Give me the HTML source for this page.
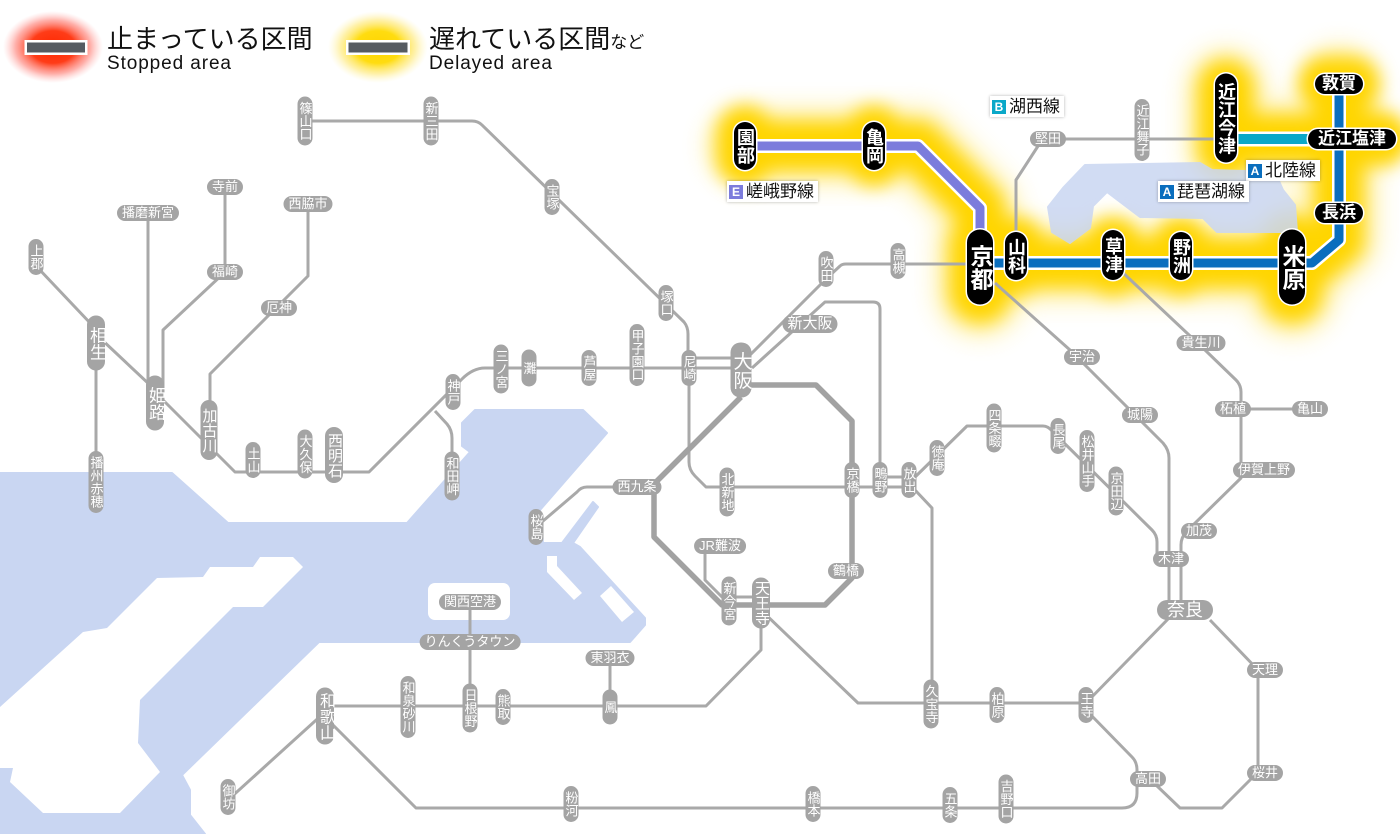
<!DOCTYPE html>
<html><head><meta charset="utf-8">
<style>
html,body{margin:0;padding:0}
body{width:1400px;height:834px;position:relative;overflow:hidden;background:#fff;font-family:"Liberation Sans","Noto Sans CJK JP",sans-serif}
svg{position:absolute;left:0;top:0}
.s{position:absolute;transform:translate(-50%,-50%);background:#a4a4a4;color:#fff;font-size:13px;text-align:center;white-space:nowrap;box-sizing:border-box;font-family:"Liberation Sans","Noto Sans CJK JP",sans-serif}
.h{height:16px;line-height:16px;padding:0 5px;border-radius:8px}
.v{writing-mode:vertical-rl;text-orientation:upright;width:15px;line-height:15px;padding:5px 0;border-radius:8px}
.L{writing-mode:vertical-rl;text-orientation:upright;width:18px;line-height:18px;font-size:16px;padding:0;border-radius:9px}
.b{background:#000;font-weight:bold;box-shadow:0 0 0 1.5px #fff}
.bv{writing-mode:vertical-rl;text-orientation:upright;width:22px;line-height:22px;font-size:18px;border-radius:11px;padding:0}
.bh{height:20px;line-height:20px;font-size:17px;border-radius:10px;padding:0 7px}
.lb{position:absolute;background:#fff;box-shadow:0 0 3px rgba(0,0,0,.3);font-size:17px;line-height:21px;height:21px;padding:0 4px 0 2px;color:#111;white-space:nowrap}
.lb i{display:inline-block;width:14px;height:14px;line-height:14px;font-size:12px;font-style:normal;color:#fff;text-align:center;vertical-align:1px;margin-right:3px;font-weight:bold;font-family:"Liberation Sans",sans-serif}
.lg{position:absolute;white-space:nowrap;color:#111}
</style></head><body>
<svg width="1400" height="834" viewBox="0 0 1400 834">
<defs>
<radialGradient id="rg" cx="50%" cy="50%" r="50%">
<stop offset="0" stop-color="#ff2800"/><stop offset=".45" stop-color="#ff3c18"/><stop offset=".75" stop-color="#ff7a70" stop-opacity=".6"/><stop offset="1" stop-color="#ffb0b0" stop-opacity="0"/>
</radialGradient>
<radialGradient id="yg" cx="50%" cy="50%" r="50%">
<stop offset="0" stop-color="#ffd400"/><stop offset=".45" stop-color="#ffdc10"/><stop offset=".75" stop-color="#ffe870" stop-opacity=".6"/><stop offset="1" stop-color="#fff4b0" stop-opacity="0"/>
</radialGradient>
<filter id="bl" filterUnits="userSpaceOnUse" x="600" y="0" width="800" height="420"><feGaussianBlur stdDeviation="9"/></filter>
<filter id="bl2" filterUnits="userSpaceOnUse" x="600" y="0" width="800" height="420"><feGaussianBlur stdDeviation="12"/></filter>
</defs>

<!-- legend -->
<ellipse cx="53" cy="47" rx="50" ry="36" fill="url(#rg)"/>
<rect x="24.5" y="40" width="63" height="15" fill="#fff"/>
<rect x="27" y="42.5" width="58" height="10" fill="#565b61"/>
<ellipse cx="378" cy="47" rx="50" ry="36" fill="url(#yg)"/>
<rect x="346" y="40" width="64" height="15" fill="#fff"/>
<rect x="348.5" y="42.5" width="59" height="10" fill="#565b61"/>

<!-- yellow glow outer -->
<g filter="url(#bl2)" fill="none" stroke="#ffe45a" stroke-linecap="round" stroke-linejoin="round" opacity=".45">
<path d="M745,146 L918,146 L980,208 L980,267" stroke-width="78"/>
<path d="M980,263 L1312,263 L1339,240 L1339,84" stroke-width="78"/>
<path d="M1226,139 L1352,139" stroke-width="78"/>
<path d="M980,245 L980,292" stroke-width="90"/>
<path d="M1292,245 L1292,292" stroke-width="90"/>
<path d="M1226,88 L1226,150" stroke-width="80"/>
</g>
<!-- yellow glow core -->
<g filter="url(#bl)" fill="none" stroke="#ffd500" stroke-linecap="round" stroke-linejoin="round">
<path d="M745,146 L918,146 L980,208 L980,267" stroke-width="50"/>
<path d="M980,263 L1312,263 L1339,240 L1339,84" stroke-width="50"/>
<path d="M1226,139 L1352,139" stroke-width="50"/>
<path d="M980,245 L980,292" stroke-width="62"/>
<path d="M1292,245 L1292,292" stroke-width="62"/>
<path d="M1226,88 L1226,150" stroke-width="56"/>
<path d="M1326,84 L1352,84" stroke-width="54"/>
<path d="M1322,139 L1382,139" stroke-width="54"/>
<path d="M745,134 L745,158" stroke-width="56"/>
<path d="M874,134 L874,158" stroke-width="56"/>
<path d="M1016,245 L1016,268" stroke-width="56"/>
<path d="M1113,245 L1113,268" stroke-width="56"/>
<path d="M1181,245 L1181,268" stroke-width="56"/>
</g>

<!-- water -->
<g fill="#c9d6f2" stroke="#c9d6f2" stroke-width="2" stroke-linejoin="round">
<polygon points="0,473 172,473 228,523 407,523 470,452 462,446 462,423 475,410 583,410 607,433 540,510 543,543 562,543 593,502 598,507 573,543 580,547 645,618 645,625 630,642 319,642 182,775 190,790 190,815 205,834 0,834"/>
</g>
<polygon fill="#c9d6f2" opacity=".85" stroke="#c9d6f2" stroke-width="2" stroke-linejoin="round" points="1085,165 1200,163 1212,170 1275,172 1283,190 1295,205 1297,232 1217,232 1203,218 1140,217 1107,192 1093,206 1090,228 1070,243 1052,232 1048,207 1063,188"/>
<g fill="#fff">
<polygon points="0,707 83,632 107,628 157,578 203,577 210,567 253,567 260,557 293,557 303,567 263,607 233,607 140,700 138,743 160,772 120,813 43,813 10,782 13,768 0,768"/>
<rect x="428" y="583" width="82" height="37" rx="7"/>
<polygon points="547,556 557,556 557,566 582,593 574,600 547,572"/>
<polygon points="600,596 611,586 634,612 622,622"/>
</g>

<!-- gray lines -->
<g fill="none" stroke="#a9a9a9" stroke-width="3" stroke-linejoin="round">
<path d="M305,121 L472,121 Q478,121 482,125 L684,322 Q688,327 688,334 L688,368"/>
<path d="M689,358 L741,358"/>
<path d="M38,268 L92,325 M100,338 L150,385 M158,395 L210,447 L235,472 L369,472 L462,379 Q473,368 485,368 L741,368"/>
<path d="M96,343 L96,482"/>
<path d="M148,213 L148,400"/>
<path d="M225,187 L225,272 L163,330 L163,400"/>
<path d="M308,204 L308,276 L210,374 L210,430"/>
<path d="M435,411 L447,424 Q452,430 452,438 L452,476"/>
<path d="M745,360 L826,279 L840,266 Q842,264 846,264 L980,264"/>
<path d="M752,368 L825,302 L873,302 Q880,302 880,309 L880,480"/>
<path d="M689,368 L689,462 Q689,470 695,476 L706,487 L909,487 M880,477 L909,477"/>
<path d="M637,487 L587,487 Q581,487 577,492 L536,527"/>
<path d="M705,546 L705,580 L722,597 L761,597"/>
<path d="M763,612 L858,703 L1086,703 L1170,617"/>
<path d="M1088,712 L1132,757 Q1137,762 1137,770 L1137,779"/>
<path d="M761,628 L761,650 L706,706 L325,706"/>
<path d="M610,658 L610,706"/>
<path d="M470,602 L470,708"/>
<path d="M325,712 L228,800"/>
<path d="M330,722 L416,808 L1122,808 Q1137,808 1137,793 L1137,779"/>
<path d="M1156,785 L1180,808 L1222,808 L1258,772 L1258,670 L1210,620"/>
<path d="M995,283 L1070,350 L1140,420 L1163,443 Q1169,450 1169,458 L1169,600"/>
<path d="M912,480 L967,426 L1043,426 Q1048,426 1052,431 L1152,530 Q1157,535 1157,542 L1157,560"/>
<path d="M915,490 L932,508 L932,704"/>
<path d="M1120,270 L1205,350 L1236,380 Q1241,385 1241,392 L1241,478 L1187,531 Q1181,537 1181,545 L1181,600"/>
<path d="M1233,409 L1310,409"/>
<path d="M1016,240 L1016,180 L1040,143 Q1043,139 1050,139 L1226,139"/>
</g>
<path d="M741,385 L816,385 L852,421 L852,578 L825,605 L722,605 L654,537 L654,484 L741,397" fill="none" stroke="#a2a2a2" stroke-width="5.5" stroke-linejoin="round"/>

<!-- colored lines -->
<g fill="none" stroke-linejoin="round">
<path d="M745,146 L918,146 L980,208 L980,267" stroke="#fff" stroke-width="14"/>
<path d="M745,146 L918,146 L980,208 L980,267" stroke="#7c7cdc" stroke-width="9"/>
<path d="M980,263 L1312,263 L1339,240 L1339,84" stroke="#fff" stroke-width="14"/>
<path d="M980,263 L1312,263 L1339,240 L1339,84" stroke="#0a6ebe" stroke-width="9"/>
<path d="M1226,139 L1352,139" stroke="#fff" stroke-width="15"/>
<path d="M1226,139 L1352,139" stroke="#0aa8c8" stroke-width="10"/>
</g>
</svg>

<!-- legend text -->
<div class="lg" style="left:107px;top:24px;font-size:26px;line-height:30px;">止まっている区間</div>
<div class="lg" style="left:107px;top:54px;font-size:19px;line-height:20px;letter-spacing:0.9px;">Stopped area</div>
<div class="lg" style="left:429px;top:24px;font-size:26px;line-height:30px;">遅れている区間<span style="font-size:17px">など</span></div>
<div class="lg" style="left:429px;top:54px;font-size:19px;line-height:20px;letter-spacing:0.9px;">Delayed area</div>

<!-- line labels -->
<div class="lb" style="left:727px;top:181px;"><i style="background:#7c7cdc">E</i>嵯峨野線</div>
<div class="lb" style="left:990px;top:96px;"><i style="background:#0aa8c8">B</i>湖西線</div>
<div class="lb" style="left:1246px;top:160px;"><i style="background:#0a6ebe">A</i>北陸線</div>
<div class="lb" style="left:1158px;top:181px;"><i style="background:#0a6ebe">A</i>琵琶湖線</div>

<!-- gray vertical stations -->
<div class="s v" style="left:305px;top:121px">篠山口</div>
<div class="s v" style="left:431px;top:121px">新三田</div>
<div class="s v" style="left:552px;top:197px">宝塚</div>
<div class="s v" style="left:666px;top:303px">塚口</div>
<div class="s v" style="left:36px;top:257px">上郡</div>
<div class="s v" style="left:96px;top:482px">播州赤穂</div>
<div class="s v" style="left:253px;top:460px">土山</div>
<div class="s v" style="left:305px;top:454px">大久保</div>
<div class="s v" style="left:453px;top:392px">神戸</div>
<div class="s v" style="left:452px;top:476px">和田岬</div>
<div class="s v" style="left:501px;top:369px">三ノ宮</div>
<div class="s v" style="left:529px;top:368px;padding:12px 0">灘</div>
<div class="s v" style="left:589px;top:368px">芦屋</div>
<div class="s v" style="left:637px;top:355px">甲子園口</div>
<div class="s v" style="left:689px;top:368px">尼崎</div>
<div class="s v" style="left:826px;top:269px">吹田</div>
<div class="s v" style="left:898px;top:261px">高槻</div>
<div class="s v" style="left:727px;top:492px">北新地</div>
<div class="s v" style="left:852px;top:480px">京橋</div>
<div class="s v" style="left:880px;top:480px">鴫野</div>
<div class="s v" style="left:909px;top:480px">放出</div>
<div class="s v" style="left:536px;top:527px">桜島</div>
<div class="s v" style="left:729px;top:601px">新今宮</div>
<div class="s v" style="left:937px;top:458px">徳庵</div>
<div class="s v" style="left:994px;top:428px">四条畷</div>
<div class="s v" style="left:1058px;top:436px">長尾</div>
<div class="s v" style="left:1087px;top:461px">松井山手</div>
<div class="s v" style="left:1116px;top:491px">京田辺</div>
<div class="s v" style="left:931px;top:704px">久宝寺</div>
<div class="s v" style="left:997px;top:705px">柏原</div>
<div class="s v" style="left:1086px;top:705px">王寺</div>
<div class="s v" style="left:950px;top:805px">五条</div>
<div class="s v" style="left:1006px;top:799px">吉野口</div>
<div class="s v" style="left:408px;top:707px">和泉砂川</div>
<div class="s v" style="left:470px;top:708px">日根野</div>
<div class="s v" style="left:503px;top:707px">熊取</div>
<div class="s v" style="left:610px;top:707px;padding:11px 0">鳳</div>
<div class="s v" style="left:228px;top:797px">御坊</div>
<div class="s v" style="left:571px;top:804px">粉河</div>
<div class="s v" style="left:813px;top:804px">橋本</div>
<div class="s v" style="left:1142px;top:130px">近江舞子</div>

<!-- big gray vertical -->
<div class="s L" style="left:96px;top:343px;height:55px;font-size:17px">相生</div>
<div class="s L" style="left:155px;top:403px;height:55px;font-size:17px">姫路</div>
<div class="s L" style="left:209px;top:430px;height:60px;width:17px;line-height:17px;font-size:15px">加古川</div>
<div class="s L" style="left:334px;top:455px;height:56px;font-size:15px">西明石</div>
<div class="s L" style="left:741px;top:370px;height:55px;width:21px;line-height:21px;font-size:19px;border-radius:10px">大阪</div>
<div class="s L" style="left:761px;top:603px;height:51px;font-size:15px">天王寺</div>
<div class="s L" style="left:325px;top:716px;height:57px;font-size:16px">和歌山</div>

<!-- gray horizontal -->
<div class="s h" style="left:225px;top:187px">寺前</div>
<div class="s h" style="left:225px;top:272px">福崎</div>
<div class="s h" style="left:148px;top:213px">播磨新宮</div>
<div class="s h" style="left:308px;top:204px">西脇市</div>
<div class="s h" style="left:279px;top:308px">厄神</div>
<div class="s h" style="left:637px;top:487px">西九条</div>
<div class="s h" style="left:720px;top:546px">JR難波</div>
<div class="s h" style="left:846px;top:571px">鶴橋</div>
<div class="s h" style="left:610px;top:658px">東羽衣</div>
<div class="s h" style="left:470px;top:642px">りんくうタウン</div>
<div class="s h" style="left:470px;top:602px">関西空港</div>
<div class="s h" style="left:1082px;top:357px">宇治</div>
<div class="s h" style="left:1140px;top:415px">城陽</div>
<div class="s h" style="left:1171px;top:559px">木津</div>
<div class="s h" style="left:1199px;top:531px">加茂</div>
<div class="s h" style="left:1264px;top:470px">伊賀上野</div>
<div class="s h" style="left:1233px;top:409px">柘植</div>
<div class="s h" style="left:1310px;top:409px">亀山</div>
<div class="s h" style="left:1201px;top:343px">貴生川</div>
<div class="s h" style="left:1265px;top:670px">天理</div>
<div class="s h" style="left:1265px;top:773px">桜井</div>
<div class="s h" style="left:1148px;top:779px">高田</div>
<div class="s h" style="left:1048px;top:139px">堅田</div>
<div class="s h" style="left:810px;top:324px;height:18px;line-height:18px;font-size:15px;border-radius:9px">新大阪</div>
<div class="s h" style="left:1185px;top:610px;height:20px;line-height:20px;font-size:18px;border-radius:10px;padding:0 10px">奈良</div>

<!-- black stations -->
<div class="s b bv" style="left:745px;top:146px;height:48px">園部</div>
<div class="s b bv" style="left:874px;top:146px;height:48px">亀岡</div>
<div class="s b bv" style="left:1016px;top:256px;height:48px">山科</div>
<div class="s b bv" style="left:1113px;top:255px;height:50px">草津</div>
<div class="s b bv" style="left:1181px;top:256px;height:48px">野洲</div>
<div class="s b bv" style="left:1226px;top:118px;height:89px">近江今津</div>
<div class="s b bv" style="left:980px;top:267px;height:75px;width:26px;line-height:26px;font-size:23px;border-radius:13px">京都</div>
<div class="s b bv" style="left:1292px;top:267px;height:75px;width:26px;line-height:26px;font-size:23px;border-radius:13px">米原</div>
<div class="s b bh" style="left:1339px;top:84px">敦賀</div>
<div class="s b bh" style="left:1352px;top:139px;padding:0 10px">近江塩津</div>
<div class="s b bh" style="left:1339px;top:213px">長浜</div>
</body></html>
